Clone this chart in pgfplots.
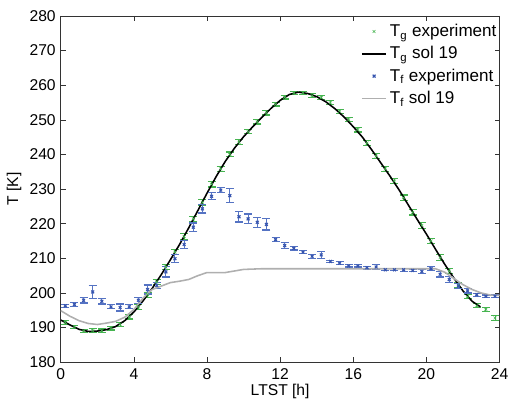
\documentclass[border=0pt]{standalone}
\usepackage{fontspec}
\setmainfont{Liberation Sans}
\usepackage{pgfplots}
\pgfplotsset{compat=1.18}
\usepackage{pgfplotstable}

\definecolor{tggreen}{RGB}{70,180,80}
\definecolor{tfblue}{RGB}{55,85,175}
\definecolor{tfbar}{RGB}{85,115,195}
\definecolor{solgray}{RGB}{175,175,175}

% T_g measurements: hour, temperature, error
\pgfplotstableread{
x y e
0.25 191.5 0.6
0.75 190.2 0.5
1.25 189.0 0.4
1.75 189.1 0.6
2.25 189.1 0.5
2.75 189.8 0.5
3.25 191.0 0.6
3.75 193.1 0.6
4.25 196.0 0.7
4.75 199.5 0.7
5.25 203.2 0.7
5.75 207.5 0.8
6.25 211.8 0.8
6.75 216.3 0.8
7.25 221.4 0.8
7.75 226.2 0.8
8.25 231.4 0.8
8.75 235.8 0.7
9.25 240.0 0.7
9.75 243.5 0.7
10.25 246.6 0.6
10.75 249.4 0.6
11.25 252.0 0.6
11.75 254.5 0.5
12.25 256.5 0.5
12.75 257.8 0.4
13.25 257.8 0.4
13.75 257.0 0.5
14.25 256.4 0.5
14.75 254.9 0.6
15.25 252.5 0.6
15.75 250.0 0.6
16.25 247.2 0.7
16.75 243.3 0.7
17.25 239.5 0.7
17.75 235.8 0.8
18.25 232.3 0.8
18.75 227.5 0.8
19.25 223.3 0.8
19.75 219.5 0.8
20.25 215.0 0.8
20.75 210.2 0.8
21.25 206.3 0.7
21.75 202.2 0.7
22.25 198.9 0.6
22.75 196.3 0.6
23.25 195.3 0.6
23.75 192.8 0.8
}\tgexp

% T_f measurements
\pgfplotstableread{
x y e
0.25 196.3 0.4
0.75 196.7 0.5
1.25 197.9 0.8
1.75 200.3 1.8
2.25 197.6 0.8
2.75 196.0 0.6
3.25 195.8 1.0
3.75 196.0 0.6
4.25 197.9 0.9
4.75 201.0 1.3
5.25 202.2 0.8
5.75 206.1 1.5
6.25 209.9 1.1
6.75 214.0 1.2
7.25 219.0 1.2
7.75 224.3 1.2
8.25 227.9 1.0
8.75 229.7 0.8
9.25 228.1 2.0
9.75 222.0 1.5
10.25 221.4 1.4
10.75 220.4 1.5
11.25 219.8 1.6
11.75 215.4 0.6
12.25 213.7 0.9
12.75 212.9 0.5
13.25 211.8 0.5
13.75 210.6 0.6
14.25 211.0 1.0
14.75 209.1 0.4
15.25 208.6 0.4
15.75 207.8 0.3
16.25 207.8 0.3
16.75 207.3 0.4
17.25 207.5 0.6
17.75 206.7 0.3
18.25 206.7 0.3
18.75 206.7 0.4
19.25 206.5 0.4
19.75 206.2 0.6
20.25 207.0 0.6
20.75 205.4 0.8
21.25 203.9 0.9
21.75 202.0 0.8
22.25 200.6 0.6
22.75 199.5 0.4
23.25 199.1 0.3
23.75 199.1 0.3
}\tfexp

% model, sol 19
\pgfplotstableread{
x y
0 192.2
0.5 190.8
1 189.5
1.5 188.9
2 189.0
2.5 189.4
3 190.3
3.5 192.0
4 194.5
4.5 197.7
5 201.3
5.5 205.3
6 209.6
6.5 214.0
7 218.8
7.5 223.8
8 228.8
8.5 233.6
9 238.0
9.5 241.8
10 245.1
10.5 248.0
11 250.7
11.5 253.3
12 255.6
12.5 257.3
13 258.0
13.5 257.6
14 256.7
14.5 255.2
15 253.2
15.5 250.8
16 248.0
16.5 245.0
17 241.4
17.5 237.6
18 233.8
18.5 229.8
19 225.5
19.5 221.2
20 217.0
20.5 212.6
21 208.3
21.5 204.3
22 200.6
22.5 197.6
22.95 196.0
}\tgsol

\pgfplotstableread{
x y
0 194.9
0.5 193.3
1 192.0
1.5 191.2
2 190.9
2.5 191.3
3 191.8
3.5 193.0
4 195.2
4.5 198.5
5 201.0
5.5 202.0
6 203.0
6.5 203.4
7 203.9
7.5 205.0
8 205.9
9 205.9
10 206.8
11 207.0
20 207.0
20.5 207.0
21 206.0
21.5 204.2
22 202.4
22.5 201.0
23 200.0
23.5 199.4
24 199.3
}\tfsol

\begin{document}
\begin{tikzpicture}
\begin{axis}[
    scale only axis,
    width=308.7pt, height=243.6pt,
    xmin=0, xmax=24, ymin=180, ymax=280,
    xtick={0,4,...,24},
    ytick={180,190,...,280},
    tick pos=both,
    tick align=inside,
    major tick length=3.5pt,
    axis line style={black!80},
    every tick/.style={black!80},
    tick label style={font=\fontsize{11}{13}\selectfont},
    xticklabel style={yshift=-1pt},
    /pgf/number format/assume math mode=true,
    xlabel={LTST [h]},
    ylabel={T [K]},
    label style={font=\fontsize{11}{13}\selectfont},
    xlabel style={yshift=4pt},
    ylabel style={yshift=-1pt},
    legend style={draw=none, fill=none, at={(1,0.985)}, anchor=north east,
        font=\fontsize{12}{14}\selectfont, row sep=1.5pt,
        inner sep=0pt},
    legend cell align=left,
]
\addplot[only marks, mark=x, mark size=1.4pt, tggreen,
    error bars/.cd, y dir=both, y explicit, error mark=-,
    error mark options={mark size=2.8pt, rotate=90, draw=tggreen, line width=0.8pt},
    error bar style={draw=tggreen, line width=0.7pt}]
    table[x=x, y=y, y error=e] {\tgexp};
\addlegendentry{T\textsubscript{g} experiment}
\addplot[black, line width=1.1pt] table[x=x, y=y] {\tgsol};
\addlegendentry{T\textsubscript{g} sol 19}
\addplot[only marks, mark=x, mark size=1.4pt, tfblue, line width=0.8pt,
    error bars/.cd, y dir=both, y explicit, error mark=-,
    error mark options={mark size=2.8pt, rotate=90, draw=tfbar, line width=0.8pt},
    error bar style={draw=tfbar, line width=0.7pt}]
    table[x=x, y=y, y error=e] {\tfexp};
\addlegendentry{T\textsubscript{f} experiment}
\addplot[solgray, line width=1.1pt] table[x=x, y=y] {\tfsol};
\addlegendentry{T\textsubscript{f} sol 19}
\end{axis}
\path (current axis.south west) ++(-42.7pt,-30.1pt) rectangle ++(359.1pt,284.9pt);
\end{tikzpicture}
\end{document}
